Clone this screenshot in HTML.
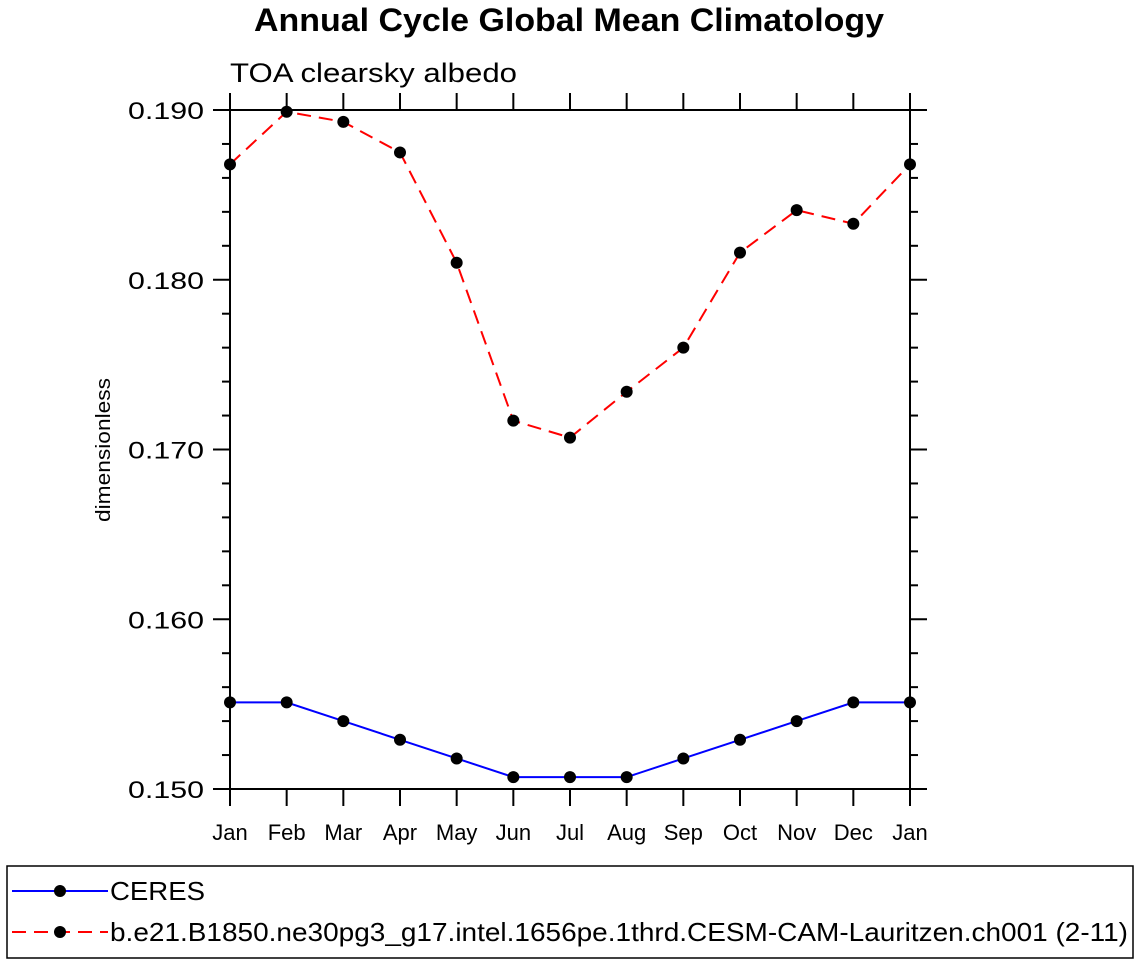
<!DOCTYPE html>
<html><head><meta charset="utf-8"><style>
html,body{margin:0;padding:0;background:#fff;}
svg{display:block;font-family:"Liberation Sans",Helvetica,Arial,sans-serif;}
</style></head><body>
<svg id="chart" width="1138" height="964">
<text x="254" y="31" font-size="32" font-weight="bold" textLength="630" lengthAdjust="spacingAndGlyphs">Annual Cycle Global Mean Climatology</text>
<text x="230" y="82" font-size="27" textLength="287" lengthAdjust="spacingAndGlyphs">TOA clearsky albedo</text>
<text transform="translate(110,378) rotate(-90)" x="-144" y="0" font-size="20" textLength="144" lengthAdjust="spacingAndGlyphs">dimensionless</text>
<g id="axes"></g>
<g id="series"></g>
<rect x="7" y="866" width="1126" height="92" fill="none" stroke="#000" stroke-width="1.5"/>
<g>
<line x1="12" y1="891" x2="108" y2="891" stroke="#00f" stroke-width="2"/>
<circle cx="60" cy="891" r="6" fill="#000"/>
<text x="110" y="900" font-size="26" textLength="95" lengthAdjust="spacingAndGlyphs">CERES</text>
</g>
<g>
<line x1="12" y1="932" x2="108" y2="932" stroke="#f00" stroke-width="2" stroke-dasharray="14,8"/>
<circle cx="60" cy="932" r="6" fill="#000"/>
<text x="110" y="941" font-size="26" textLength="1018" lengthAdjust="spacingAndGlyphs">b.e21.B1850.ne30pg3_g17.intel.1656pe.1thrd.CESM-CAM-Lauritzen.ch001 (2-11)</text>
</g>
</svg>
<script>
const months=["Jan","Feb","Mar","Apr","May","Jun","Jul","Aug","Sep","Oct","Nov","Dec","Jan"];
const ceres=[0.1551,0.1551,0.1540,0.1529,0.1518,0.1507,0.1507,0.1507,0.1518,0.1529,0.1540,0.1551,0.1551];
const model=[0.1868,0.1899,0.1893,0.1875,0.1810,0.1717,0.1707,0.1734,0.1760,0.1816,0.1841,0.1833,0.1868];
const yTicks=[0.150,0.160,0.170,0.180,0.190];
const yTickLabels=["0.150","0.160","0.170","0.180","0.190"];
const NS="http://www.w3.org/2000/svg";
const L=230,R=910,T=110,B=789,yMin=0.150,yMax=0.190;
const xs=i=>L+(R-L)*i/(months.length-1);
const ys=v=>B-(v-yMin)/(yMax-yMin)*(B-T);
function mk(tag,attrs,parent){const e=document.createElementNS(NS,tag);for(const k in attrs)e.setAttribute(k,attrs[k]);parent.appendChild(e);return e;}
const ax=document.getElementById('axes');
const fr=mk('rect',{x:L,y:T,width:R-L,height:B-T,fill:'none',stroke:'#000','stroke-width':2},ax);


months.forEach((m,i)=>{
  const x=xs(i);
  const t1=mk('line',{x1:x,y1:B,x2:x,y2:B+17,stroke:'#000','stroke-width':2},ax);
  
  
  const t2=mk('line',{x1:x,y1:T,x2:x,y2:T-17,stroke:'#000','stroke-width':2},ax);
  
  
  const lb=mk('text',{x:x,y:840,'text-anchor':'middle','font-size':22},ax);
  lb.textContent=m;
  
  
});
for(let k=0;k<=20;k++){
  const v=yMin+k*0.002;const y=ys(v);const major=k%5===0;const len=major?17:8;
  const a=mk('line',{x1:L,y1:y,x2:L-len,y2:y,stroke:'#000','stroke-width':2},ax);
  
  
  const b=mk('line',{x1:R,y1:y,x2:R+len,y2:y,stroke:'#000','stroke-width':2},ax);
  
  
}
yTicks.forEach((v,i)=>{
  const t=mk('text',{x:128,y:ys(v)+9,'font-size':24,textLength:76,lengthAdjust:'spacingAndGlyphs'},ax);
  t.textContent=yTickLabels[i];
  
  
});
const sg=document.getElementById('series');
function draw(data,color,dash,name){
  const p=mk('polyline',{points:data.map((v,i)=>xs(i)+','+ys(v)).join(' '),fill:'none',stroke:color,'stroke-width':2,'stroke-dasharray':dash},sg);
  
  
  data.forEach((v,i)=>{
    const c=mk('circle',{cx:xs(i),cy:ys(v),r:6,fill:'#000'},sg);
    
    
  });
}
draw(ceres,'#00f','none','ceres');
draw(model,'#f00','14,8','model');
</script>
</body></html>
